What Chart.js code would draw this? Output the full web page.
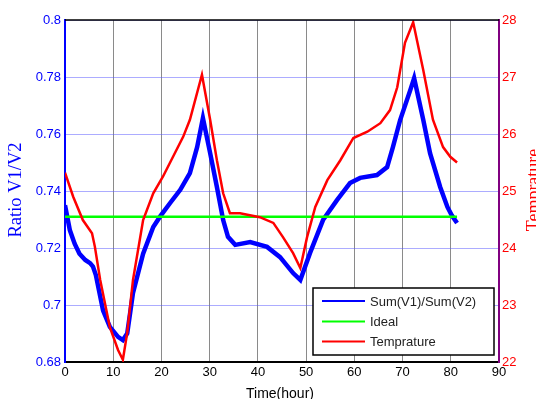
<!DOCTYPE html>
<html>
<head>
<meta charset="utf-8">
<script src="https://cdn.jsdelivr.net/npm/chart.js@4.4.0/dist/chart.umd.min.js"></script>
<style>
  html, body { margin: 0; padding: 0; background: #fff; }
  #wrap { width: 536px; height: 399px; }
</style>
</head>
<body>
<div id="wrap"><canvas id="chart" width="536" height="399"></canvas></div>
<script>
// values
const ratioTime = [0, 1, 2, 3, 4.2, 5.2, 5.8, 6.4, 7.9, 9.3, 11, 12, 12.9, 14.1, 16.2, 18.3, 19.7, 21.8, 23.9, 25.9, 27.4, 28.6,
  30.1, 31.5, 32.8, 33.8, 35.3, 38.4, 41.9, 44.6, 47.3, 48.8, 50.8, 53.5, 56.4, 59.1, 61.2, 64.7, 66.8, 68, 69.5, 71.6, 72.4,
  74.3, 75.7, 77.8, 79.3, 80.2, 81.3];
const ratioValues = [0.735, 0.7263, 0.7215, 0.718, 0.7158, 0.7147, 0.7135, 0.7105, 0.698, 0.6923, 0.6888, 0.6877, 0.690, 0.7042, 0.718, 0.7274, 0.731, 0.7358, 0.7404, 0.7463, 0.7554, 0.7656,
  0.7533, 0.7414, 0.7298, 0.7239, 0.7211, 0.7221, 0.7204, 0.7168, 0.7112, 0.7088, 0.7182, 0.7298, 0.7368, 0.7428, 0.7446, 0.7456, 0.7484, 0.7554, 0.7649, 0.7754, 0.7796,
  0.7649, 0.7533, 0.7414, 0.7344, 0.7315, 0.7288];

const tempTime = [0, 1.7, 3.7, 5.6, 6.2, 7.3, 9.3, 11, 12, 12.9, 14.1, 16.2, 18.3, 20.3, 22.4, 24.5, 25.9, 28.4,
  30.1, 31.5, 32.8, 34.2, 36.3, 40.4, 43.2, 45.2, 47.3, 48.8, 50.2, 51.9, 54.4, 57.1, 59.8, 62.7, 65.4, 67.4, 68.9, 70.5, 72.2,
  74.3, 76.3, 78.4, 79.9, 81.3];
const tempValues = [25.32, 24.9, 24.49, 24.26, 24.02, 23.44, 22.61, 22.21, 22.04, 22.51, 23.44, 24.49, 24.96, 25.25, 25.6, 25.95, 26.25, 27.04,
  26.25, 25.54, 24.96, 24.61, 24.61, 24.54, 24.44, 24.19, 23.91, 23.65, 24.19, 24.72, 25.19, 25.54, 25.93, 26.04, 26.19, 26.42, 26.82, 27.6, 27.96,
  27.12, 26.25, 25.77, 25.6, 25.5];

const idealTime = [0, 81.3];
const idealValues = [0.731, 0.731];

const xTicks = [0, 10, 20, 30, 40, 50, 60, 70, 80, 90];
const ratioTicks = [0.68, 0.7, 0.72, 0.74, 0.76, 0.78, 0.8];
const tempTicks = [22, 23, 24, 25, 26, 27, 28];

const toPoints = (xs, ys) => xs.map((x, i) => ({ x: x, y: ys[i] }));

// MATLAB style legend box, axis titles and top border
const extras = {
  id: 'extras',
  afterDraw(chart) {
    const ctx = chart.ctx;
    const a = chart.chartArea;
    ctx.save();
    // top border
    ctx.strokeStyle = '#000';
    ctx.lineWidth = 1.5;
    ctx.beginPath();
    ctx.moveTo(a.left, a.top);
    ctx.lineTo(a.right, a.top);
    ctx.stroke();

    // legend
    const bx = 313, by = 288, bw = 181, bh = 67;
    ctx.fillStyle = '#fff';
    ctx.fillRect(bx, by, bw, bh);
    ctx.strokeStyle = '#000';
    ctx.lineWidth = 1.5;
    ctx.strokeRect(bx, by, bw, bh);
    const rows = [301, 321.5, 341.5];
    chart.data.datasets.forEach((ds, i) => {
      ctx.strokeStyle = ds.borderColor;
      ctx.lineWidth = 2;
      ctx.beginPath();
      ctx.moveTo(322, rows[i]);
      ctx.lineTo(365, rows[i]);
      ctx.stroke();
      ctx.fillStyle = '#222';
      ctx.font = '13px Arial, "Liberation Sans", sans-serif';
      ctx.textAlign = 'left';
      ctx.textBaseline = 'middle';
      ctx.fillText(ds.label, 370, rows[i] + 1);
    });

    // axis titles
    ctx.textAlign = 'center';
    ctx.textBaseline = 'middle';
    ctx.fillStyle = '#000';
    ctx.font = '14px Arial, "Liberation Sans", sans-serif';
    ctx.fillText('Time(hour)', 280, 394);

    ctx.save();
    ctx.translate(16, 190);
    ctx.rotate(-Math.PI / 2);
    ctx.fillStyle = '#0000ff';
    ctx.font = '18.5px "Times New Roman", "Liberation Serif", serif';
    ctx.fillText('Ratio V1/V2', 0, 0);
    ctx.restore();

    ctx.save();
    ctx.translate(534, 190);
    ctx.rotate(-Math.PI / 2);
    ctx.fillStyle = '#ff0000';
    ctx.font = '18px "Times New Roman", "Liberation Serif", serif';
    ctx.fillText('Temprature', 0, 0);
    ctx.restore();
    ctx.restore();
  }
};

const tickFont = { family: 'Arial, "Liberation Sans", sans-serif', size: 13 };

new Chart(document.getElementById('chart'), {
  type: 'line',
  data: {
    datasets: [
      {
        label: 'Sum(V1)/Sum(V2)',
        data: toPoints(ratioTime, ratioValues),
        borderColor: '#0000ff',
        borderWidth: 4.5,
        pointRadius: 0,
        tension: 0,
        order: 3,
        yAxisID: 'y'
      },
      {
        label: 'Ideal',
        data: toPoints(idealTime, idealValues),
        borderColor: '#00ff00',
        borderWidth: 2.5,
        pointRadius: 0,
        order: 2,
        yAxisID: 'y'
      },
      {
        label: 'Temprature',
        data: toPoints(tempTime, tempValues),
        borderColor: '#ff0000',
        borderWidth: 2.5,
        pointRadius: 0,
        tension: 0,
        order: 1,
        yAxisID: 'y2'
      }
    ]
  },
  options: {
    responsive: false,
    animation: false,
    layout: { padding: { top: 20, left: 0, right: 0, bottom: 0 } },
    plugins: { legend: { display: false }, tooltip: { enabled: false } },
    scales: {
      x: {
        type: 'linear',
        min: 0,
        max: 90,
        afterBuildTicks: s => { s.ticks = xTicks.map(v => ({ value: v })); },
        afterFit: s => { s.height = 37; },
        ticks: { color: '#000', font: tickFont, padding: 3, maxRotation: 0 },
        grid: { color: '#8a8a8a', lineWidth: 1, drawTicks: false },
        border: { color: '#000', width: 2 }
      },
      y: {
        position: 'left',
        min: 0.68,
        max: 0.8,
        afterBuildTicks: s => { s.ticks = ratioTicks.map(v => ({ value: v })); },
        afterFit: s => { s.width = 65; },
        ticks: {
          color: '#0000ff', font: tickFont, padding: 4,
          callback: v => String(Number(v.toFixed(2)))
        },
        grid: { color: 'rgba(90,90,255,0.5)', lineWidth: 1, drawTicks: false },
        border: { color: '#0000ff', width: 2 }
      },
      y2: {
        position: 'right',
        min: 22,
        max: 28,
        afterBuildTicks: s => { s.ticks = tempTicks.map(v => ({ value: v })); },
        afterFit: s => { s.width = 37; },
        ticks: { color: '#ff0000', font: tickFont, padding: 3 },
        grid: { display: false, drawTicks: false },
        border: { color: '#800080', width: 2 }
      }
    }
  },
  plugins: [extras]
});
</script>
</body>
</html>
